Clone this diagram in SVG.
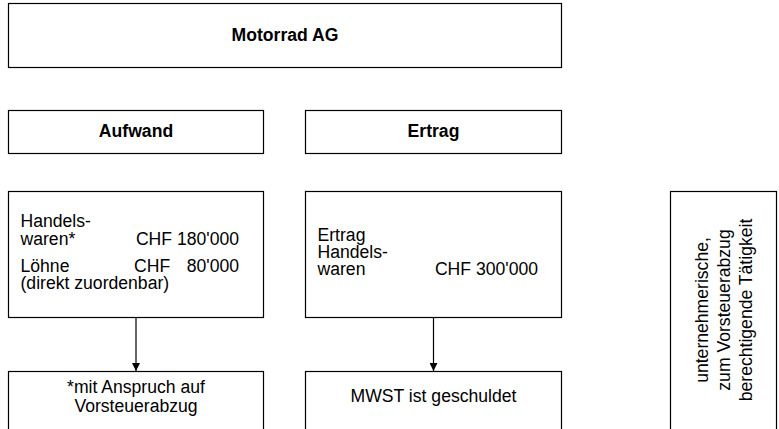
<svg xmlns="http://www.w3.org/2000/svg" width="779" height="429" viewBox="0 0 779 429">
<defs>
<style>
.box{fill:#fff;stroke:#000;stroke-width:1.2}
.t{font-family:"Liberation Sans",Arial,sans-serif;font-size:17.6px;fill:#000}
.b{font-weight:bold}
.c{text-anchor:middle}
.r{text-anchor:end}
.ln{stroke:#000;stroke-width:1.2;fill:none}
</style>
<marker id="ah" viewBox="0 0 10 10" refX="10" refY="5" markerWidth="8" markerHeight="8" markerUnits="userSpaceOnUse" orient="auto">
<path d="M0,0 L10,5 L0,10 Z" fill="#000"/>
</marker>
</defs>
<rect width="779" height="429" fill="#fff"/>
<g id="motorrad">
<rect class="box" x="8.5" y="3.5" width="553" height="64"/>
<text class="t b c" x="285" y="41">Motorrad AG</text>
</g>
<g id="aufwand">
<rect class="box" x="8.5" y="110.5" width="255" height="43"/>
<text class="t b c" x="136" y="137">Aufwand</text>
</g>
<g id="ertrag">
<rect class="box" x="305.5" y="110.5" width="256" height="43"/>
<text class="t b c" x="433.5" y="137">Ertrag</text>
</g>
<g id="aufwand-detail">
<rect class="box" x="8.5" y="191.5" width="255" height="126"/>
<text class="t" x="20.5" y="227">Handels-</text>
<text class="t" x="20.5" y="244.5">waren*</text>
<text class="t r" x="239" y="244.5">CHF 180'000</text>
<text class="t" x="20.5" y="271.5">Löhne</text>
<text class="t" x="134" y="271.5">CHF</text>
<text class="t r" x="239" y="271.5">80'000</text>
<text class="t" x="20.5" y="288.5">(direkt zuordenbar)</text>
</g>
<g id="ertrag-detail">
<rect class="box" x="305.5" y="191.5" width="256" height="126"/>
<text class="t" x="317.5" y="240.5">Ertrag</text>
<text class="t" x="317.5" y="258">Handels-</text>
<text class="t" x="317.5" y="275">waren</text>
<text class="t r" x="538" y="275">CHF 300'000</text>
</g>
<g id="vorsteuer">
<rect class="box" x="8.5" y="371.5" width="255" height="80"/>
<text class="t c" x="136" y="393">*mit Anspruch auf</text>
<text class="t c" x="136" y="412">Vorsteuerabzug</text>
</g>
<g id="mwst">
<rect class="box" x="305.5" y="371.5" width="256" height="80"/>
<text class="t c" x="433.5" y="402">MWST ist geschuldet</text>
</g>
<g id="taetigkeit">
<rect class="box" x="670.5" y="191.5" width="106" height="260"/>
<text class="t c" transform="translate(708,310) rotate(-90)">unternehmerische,</text>
<text class="t c" transform="translate(730,310) rotate(-90)">zum Vorsteuerabzug</text>
<text class="t c" transform="translate(752,310) rotate(-90)">berechtigende Tätigkeit</text>
</g>
<g id="connectors">
<line class="ln" x1="136" y1="318" x2="136" y2="371" marker-end="url(#ah)"/>
<line class="ln" x1="433.5" y1="318" x2="433.5" y2="371" marker-end="url(#ah)"/>
</g>
</svg>
